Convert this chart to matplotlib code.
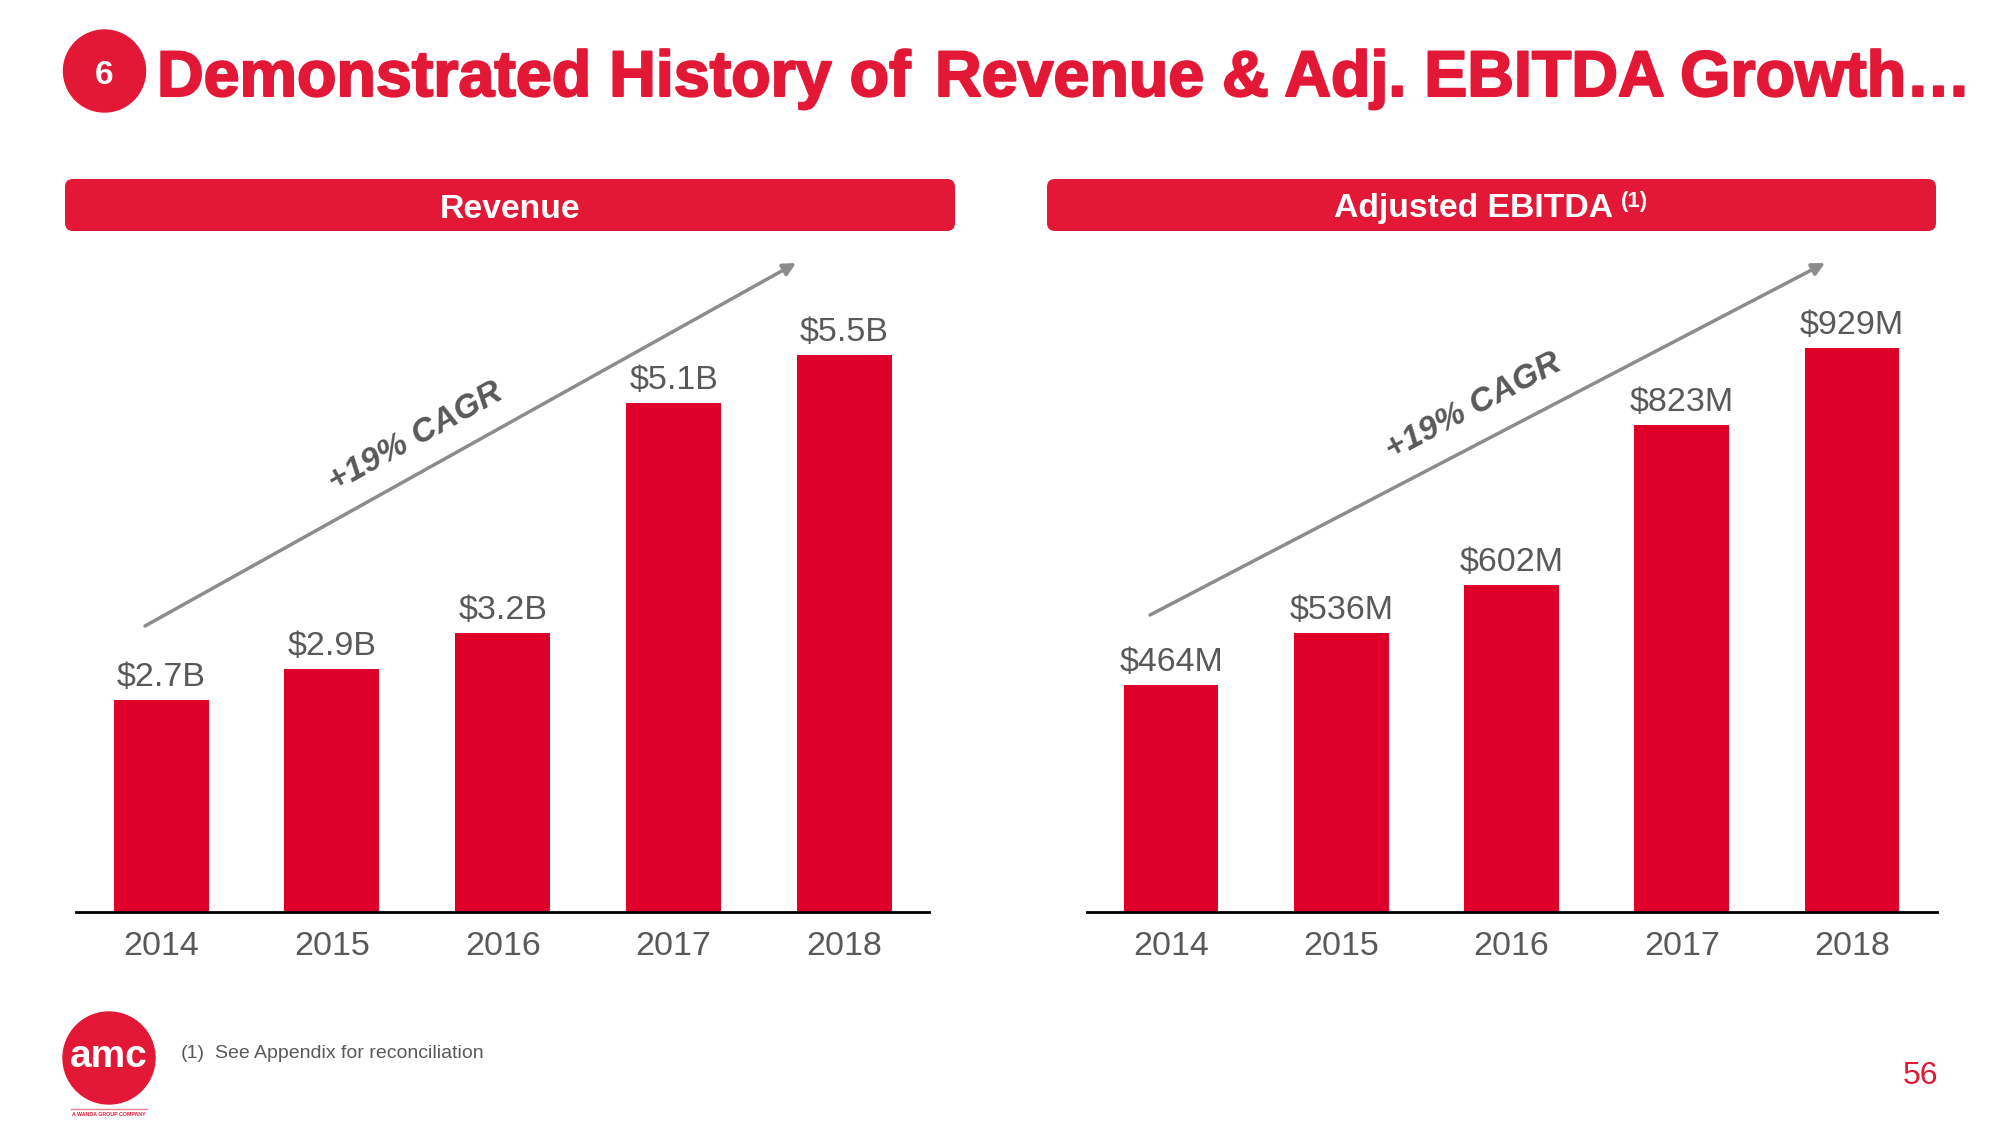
import matplotlib
matplotlib.use('Agg')
import matplotlib.pyplot as plt
import matplotlib.patheffects as pe
from matplotlib.patches import Circle, FancyBboxPatch, Ellipse

plt.rcParams['font.family'] = ['Liberation Sans', 'DejaVu Sans']

years = ['2014', '2015', '2016', '2017', '2018']
revenue = [2.70, 2.95, 3.24, 5.08, 5.47]
revenue_labels = ['$2.7B', '$2.9B', '$3.2B', '$5.1B', '$5.5B']
ebitda = [464, 536, 602, 823, 929]
ebitda_labels = ['$464M', '$536M', '$602M', '$823M', '$929M']

RED = '#E31837'
BAR_RED = '#DF0029'
GREY = '#595959'
W, H = 2000, 1125

fig = plt.figure(figsize=(W / 100, H / 100), dpi=100, facecolor='white')

# overlay in pixel coordinates for the slide furniture
bg = fig.add_axes([0, 0, 1, 1])
bg.set_xlim(0, W)
bg.set_ylim(H, 0)
bg.axis('off')


def px_axes(x0, x1, y0, y1):
    return fig.add_axes([x0 / W, 1 - y1 / H, (x1 - x0) / W, (y1 - y0) / H])


def bar_panel(ax, values, labels, ylim, xlim):
    ax.patch.set_alpha(0)
    ax.bar(range(len(values)), values, width=0.556, color=BAR_RED)
    ax.set_xlim(*xlim)
    ax.set_ylim(*ylim)
    ax.set_xticks(range(len(values)))
    ax.set_xticklabels(years, fontsize=24.5, color=GREY)
    ax.set_yticks([])
    ax.tick_params(axis='x', length=0, pad=14)
    for s in ['top', 'left', 'right']:
        ax.spines[s].set_visible(False)
    ax.spines['bottom'].set_linewidth(2)
    ax.spines['bottom'].set_color('black')
    for i, v in enumerate(values):
        ax.annotate(labels[i], (i, v), xytext=(0, 5), textcoords='offset points',
                    ha='center', va='bottom', fontsize=24.5, color=GREY)


bar_panel(px_axes(76, 929, 240, 912), revenue, revenue_labels, (1.0, 6.39), (-0.498, 4.495))
bar_panel(px_axes(1087, 1937, 240, 912), ebitda, ebitda_labels, (151, 1078), (-0.494, 4.5))

# title, two runs because the slide has a wide gap before Revenue
bg.add_patch(Circle((104.5, 71), 41, color=RED))
bg.text(104.5, 75, '6', color='white', fontsize=24, fontweight='bold', ha='center', va='center')
title_fx = [pe.withStroke(linewidth=1.5, foreground=RED)]
bg.text(157, 96, 'Demonstrated History of', color=RED, fontsize=46.5, fontweight='bold',
        ha='left', va='baseline', path_effects=title_fx)
bg.text(935, 96, 'Revenue & Adj. EBITDA Growth\u2026', color=RED, fontsize=46.5, fontweight='bold',
        ha='left', va='baseline', path_effects=title_fx)

# section headers
for x0, x1 in [(65, 955), (1047, 1936)]:
    bg.add_patch(FancyBboxPatch((x0 + 8, 187), x1 - x0 - 16, 36,
                                boxstyle='round,pad=8,rounding_size=8',
                                fc=RED, ec='none'))
bg.text(510, 209, 'Revenue', color='white', fontsize=24.3, fontweight='bold', ha='center', va='center')
bg.text(1474, 209, 'Adjusted EBITDA', color='white', fontsize=24.3, fontweight='bold', ha='center', va='center')
bg.text(1634, 202, '(1)', color='white', fontsize=16, fontweight='bold', ha='center', va='center')

# CAGR arrows
for start, end in [((145, 626), (796, 263)), ((1150, 615), (1825, 263))]:
    bg.annotate('', xy=end, xytext=start,
                arrowprops=dict(arrowstyle='-|>,head_length=0.75,head_width=0.38',
                                color='#8C8C8C', lw=2.5, shrinkA=0, shrinkB=0))
bg.text(416, 438, '+19% CAGR', color=GREY, fontsize=24, fontweight='bold', style='italic',
        rotation=29, rotation_mode='anchor', ha='center', va='center')
bg.text(1474, 407, '+19% CAGR', color=GREY, fontsize=24, fontweight='bold', style='italic',
        rotation=28, rotation_mode='anchor', ha='center', va='center')

# footer
bg.add_patch(Ellipse((109, 1058), 92, 92, color=RED))
bg.text(109, 1067, 'amc', color='white', fontsize=28, fontweight='bold',
        ha='center', va='baseline')
bg.plot([71, 147], [1109, 1109], color='#E8808F', lw=1)
bg.text(109, 1115, 'A WANDA GROUP COMPANY', color=RED, fontsize=3.8, fontweight='bold',
        ha='center', va='center')
bg.text(181, 1053, '(1)', color=GREY, fontsize=14, ha='left', va='center')
bg.text(215, 1053, 'See Appendix for reconciliation', color=GREY, fontsize=14, ha='left', va='center')
bg.text(1938, 1076, '56', color=RED, fontsize=23, ha='right', va='center')

fig.savefig('out.png', dpi=100)
